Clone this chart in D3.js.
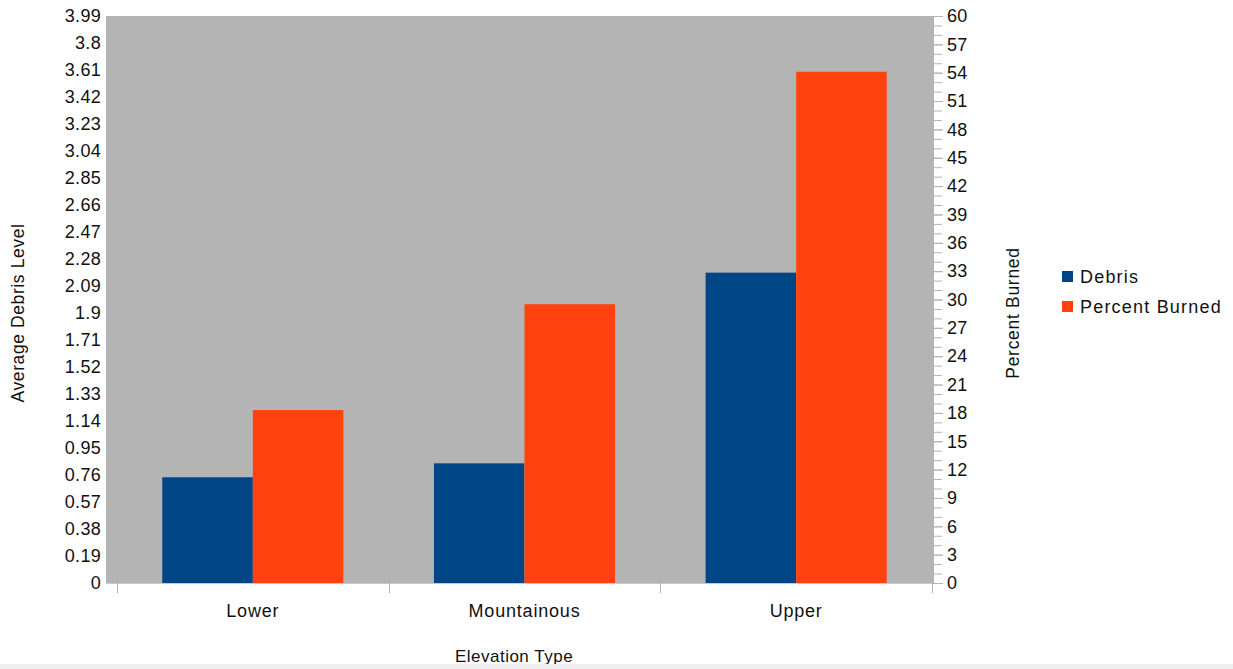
<!DOCTYPE html>
<html>
<head>
<meta charset="utf-8">
<script src="https://cdn.jsdelivr.net/npm/d3@7"></script>
<style>
  html, body { margin: 0; padding: 0; background: #fff; }
  svg { display: block; }
  text { font-family: "Liberation Sans", Arial, sans-serif; fill: #111; }
</style>
</head>
<body>
<svg id="chart" width="1233" height="669"></svg>
<script>
// Elevation categories and the two measured series
const categories = ["Lower", "Mountainous", "Upper"];
const seriesNames = ["Debris", "Percent Burned"];
const debris = [0.744, 0.842, 2.184];          // average debris level (left axis)
const percentBurned = [18.3, 29.5, 54.1];      // percent burned (right axis)
const seriesColors = ["#004586", "#ff420e"];

// Axis tick labels
const leftTicks = [0, 0.19, 0.38, 0.57, 0.76, 0.95, 1.14, 1.33, 1.52, 1.71, 1.9,
                   2.09, 2.28, 2.47, 2.66, 2.85, 3.04, 3.23, 3.42, 3.61, 3.8, 3.99];
const rightTicks = [0, 3, 6, 9, 12, 15, 18, 21, 24, 27, 30, 33, 36, 39, 42, 45, 48, 51, 54, 57, 60];
const rightMinorTicks = d3.range(0, 61, 1);

const svg = d3.select("#chart");

const plot = { left: 106, right: 933, top: 16, bottom: 583 };
const catRange = [117, 932];

const x = d3.scaleBand().domain(categories).range(catRange).padding(0);
const xs = d3.scaleBand().domain(seriesNames).range([0, x.bandwidth()])
  .paddingInner(0).paddingOuter(0.5);
const yL = d3.scaleLinear().domain([0, 3.99]).range([plot.bottom, plot.top]);
const yR = d3.scaleLinear().domain([0, 60]).range([plot.bottom, plot.top]);

// Plot wall
svg.append("rect")
  .attr("x", plot.left).attr("y", plot.top)
  .attr("width", plot.right - plot.left).attr("height", plot.bottom - plot.top)
  .attr("fill", "#b4b4b4");

// Bars
const rows = categories.map((c, i) => ({ cat: c, vals: [debris[i], percentBurned[i]] }));
const g = svg.append("g");
rows.forEach(r => {
  g.append("rect")
    .attr("x", x(r.cat) + xs("Debris"))
    .attr("y", yL(r.vals[0]))
    .attr("width", xs.bandwidth())
    .attr("height", yL(0) - yL(r.vals[0]))
    .attr("fill", seriesColors[0]);
  g.append("rect")
    .attr("x", x(r.cat) + xs("Percent Burned"))
    .attr("y", yR(r.vals[1]))
    .attr("width", xs.bandwidth())
    .attr("height", yR(0) - yR(r.vals[1]))
    .attr("fill", seriesColors[1]);
});

// Left axis: labels only
const leftAxis = d3.axisLeft(yL).tickValues(leftTicks).tickSize(0).tickPadding(5)
  .tickFormat(d => String(+d.toFixed(2)));
const gl = svg.append("g").attr("transform", `translate(${plot.left},0)`).call(leftAxis);
gl.select(".domain").remove();
gl.selectAll("text").attr("font-size", 18).attr("font-family", "Liberation Sans, Arial, sans-serif")
  .attr("fill", "#111").attr("letter-spacing", "0.3px");

// Right axis: minor ticks, then major ticks with labels
const grm = svg.append("g").attr("transform", `translate(${plot.right},0)`)
  .call(d3.axisRight(yR).tickValues(rightMinorTicks).tickSize(9).tickFormat(""));
grm.select(".domain").remove();
grm.selectAll("line").attr("stroke", "#b3b3b3");
const gr = svg.append("g").attr("transform", `translate(${plot.right},0)`)
  .call(d3.axisRight(yR).tickValues(rightTicks).tickSize(10).tickPadding(4).tickFormat(d3.format("d")));
gr.select(".domain").attr("stroke", "#b3b3b3");
gr.selectAll("line").attr("stroke", "#b3b3b3");
gr.selectAll("text").attr("font-size", 18).attr("font-family", "Liberation Sans, Arial, sans-serif")
  .attr("fill", "#111").attr("letter-spacing", "0.3px");

// Category axis: boundary ticks and centred labels
svg.append("line")
  .attr("x1", plot.left).attr("x2", plot.right)
  .attr("y1", plot.bottom + 0.5).attr("y2", plot.bottom + 0.5)
  .attr("stroke", "#c8c8c8");
const bounds = categories.map(c => x(c)).concat([x(categories[categories.length - 1]) + x.bandwidth()]);
svg.selectAll(".cattick").data(bounds).enter().append("line")
  .attr("x1", d => Math.round(d) + 0.5).attr("x2", d => Math.round(d) + 0.5)
  .attr("y1", plot.bottom).attr("y2", plot.bottom + 10)
  .attr("stroke", "#b3b3b3");
svg.selectAll(".catlabel").data(categories).enter().append("text")
  .attr("x", d => x(d) + x.bandwidth() / 2)
  .attr("y", 617)
  .attr("text-anchor", "middle")
  .attr("font-size", 18).attr("letter-spacing", "0.8px")
  .text(d => d);

// Axis titles
svg.append("text")
  .attr("x", 514).attr("y", 662)
  .attr("text-anchor", "middle").attr("font-size", 17).attr("letter-spacing", "0.5px")
  .text("Elevation Type");
svg.append("text")
  .attr("transform", "translate(24,313) rotate(-90)")
  .attr("text-anchor", "middle").attr("font-size", 17.5).attr("letter-spacing", "0.6px")
  .text("Average Debris Level");
svg.append("text")
  .attr("transform", "translate(1019,313) rotate(-90)")
  .attr("text-anchor", "middle").attr("font-size", 17.5).attr("letter-spacing", "0.7px")
  .text("Percent Burned");

// Legend
const legend = svg.append("g").attr("transform", "translate(1062,271)");
seriesNames.forEach((name, i) => {
  legend.append("rect")
    .attr("x", 0).attr("y", i * 30)
    .attr("width", 11).attr("height", 11)
    .attr("fill", seriesColors[i]);
  legend.append("text")
    .attr("x", 18).attr("y", i * 30 + 12)
    .attr("font-size", 18).attr("letter-spacing", "1.2px")
    .text(name);
});

// Bottom edge strip
svg.append("rect").attr("x", 0).attr("y", 664).attr("width", 1233).attr("height", 5).attr("fill", "#efefef");
</script>
</body>
</html>
